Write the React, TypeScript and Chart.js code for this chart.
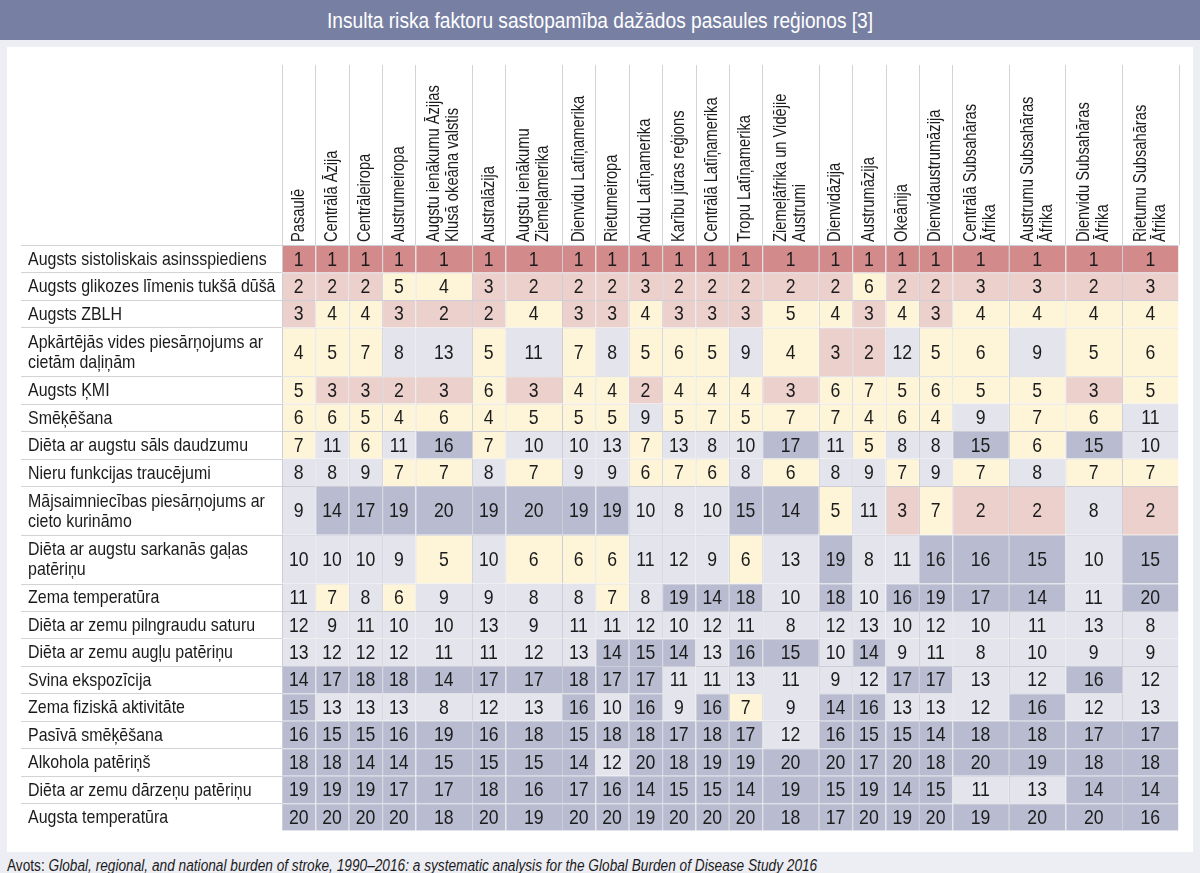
import React, { useEffect, useRef } from 'react';
import { Chart, registerables } from 'chart.js';

Chart.register(...registerables);

// ---------- texts ----------
const TITLE = 'Insulta riska faktoru sastopamība dažādos pasaules reģionos [3]';
const SOURCE_PREFIX = 'Avots: ';
const SOURCE_TEXT =
  'Global, regional, and national burden of stroke, 1990–2016: a systematic analysis for the Global Burden of Disease Study 2016';

// ---------- categories ----------
const regions: string[][] = [
  ['Pasaulē'],
  ['Centrālā Āzija'],
  ['Centrāleiropa'],
  ['Austrumeiropa'],
  ['Augstu ienākumu Āzijas', 'Klusā okeāna valstis'],
  ['Australāzija'],
  ['Augstu ienākumu', 'Ziemeļamerika'],
  ['Dienvidu Latīņamerika'],
  ['Rietumeiropa'],
  ['Andu Latīņamerika'],
  ['Karību jūras reģions'],
  ['Centrālā Latīņamerika'],
  ['Tropu Latīņamerika'],
  ['Ziemeļāfrika un Vidējie', 'Austrumi'],
  ['Dienvidāzija'],
  ['Austrumāzija'],
  ['Okeānija'],
  ['Dienvidaustrumāzija'],
  ['Centrālā Subsahāras', 'Āfrika'],
  ['Austrumu Subsahāras', 'Āfrika'],
  ['Dienvidu Subsahāras', 'Āfrika'],
  ['Rietumu Subsahāras', 'Āfrika'],
];

const riskFactors: string[][] = [
  ['Augsts sistoliskais asinsspiediens'],
  ['Augsts glikozes līmenis tukšā dūšā'],
  ['Augsts ZBLH'],
  ['Apkārtējās vides piesārņojums ar', 'cietām daļiņām'],
  ['Augsts ĶMI'],
  ['Smēķēšana'],
  ['Diēta ar augstu sāls daudzumu'],
  ['Nieru funkcijas traucējumi'],
  ['Mājsaimniecības piesārņojums ar', 'cieto kurināmo'],
  ['Diēta ar augstu sarkanās gaļas', 'patēriņu'],
  ['Zema temperatūra'],
  ['Diēta ar zemu pilngraudu saturu'],
  ['Diēta ar zemu augļu patēriņu'],
  ['Svina ekspozīcija'],
  ['Zema fiziskā aktivitāte'],
  ['Pasīvā smēķēšana'],
  ['Alkohola patēriņš'],
  ['Diēta ar zemu dārzeņu patēriņu'],
  ['Augsta temperatūra'],
];

// ---------- series values (rank per region) ----------
const rankHighSBP = [1, 1, 1, 1, 1, 1, 1, 1, 1, 1, 1, 1, 1, 1, 1, 1, 1, 1, 1, 1, 1, 1];
const rankHighGlucose = [2, 2, 2, 5, 4, 3, 2, 2, 2, 3, 2, 2, 2, 2, 2, 6, 2, 2, 3, 3, 2, 3];
const rankHighLDL = [3, 4, 4, 3, 2, 2, 4, 3, 3, 4, 3, 3, 3, 5, 4, 3, 4, 3, 4, 4, 4, 4];
const rankAmbientPM = [4, 5, 7, 8, 13, 5, 11, 7, 8, 5, 6, 5, 9, 4, 3, 2, 12, 5, 6, 9, 5, 6];
const rankHighBMI = [5, 3, 3, 2, 3, 6, 3, 4, 4, 2, 4, 4, 4, 3, 6, 7, 5, 6, 5, 5, 3, 5];
const rankSmoking = [6, 6, 5, 4, 6, 4, 5, 5, 5, 9, 5, 7, 5, 7, 7, 4, 6, 4, 9, 7, 6, 11];
const rankHighSodium = [7, 11, 6, 11, 16, 7, 10, 10, 13, 7, 13, 8, 10, 17, 11, 5, 8, 8, 15, 6, 15, 10];
const rankKidney = [8, 8, 9, 7, 7, 8, 7, 9, 9, 6, 7, 6, 8, 6, 8, 9, 7, 9, 7, 8, 7, 7];
const rankHouseholdAir = [9, 14, 17, 19, 20, 19, 20, 19, 19, 10, 8, 10, 15, 14, 5, 11, 3, 7, 2, 2, 8, 2];
const rankRedMeat = [10, 10, 10, 9, 5, 10, 6, 6, 6, 11, 12, 9, 6, 13, 19, 8, 11, 16, 16, 15, 10, 15];
const rankLowTemp = [11, 7, 8, 6, 9, 9, 8, 8, 7, 8, 19, 14, 18, 10, 18, 10, 16, 19, 17, 14, 11, 20];
const rankWholeGrains = [12, 9, 11, 10, 10, 13, 9, 11, 11, 12, 10, 12, 11, 8, 12, 13, 10, 12, 10, 11, 13, 8];
const rankFruits = [13, 12, 12, 12, 11, 11, 12, 13, 14, 15, 14, 13, 16, 15, 10, 14, 9, 11, 8, 10, 9, 9];
const rankLead = [14, 17, 18, 18, 14, 17, 17, 18, 17, 17, 11, 11, 13, 11, 9, 12, 17, 17, 13, 12, 16, 12];
const rankLowActivity = [15, 13, 13, 13, 8, 12, 13, 16, 10, 16, 9, 16, 7, 9, 14, 16, 13, 13, 12, 16, 12, 13];
const rankSecondHand = [16, 15, 15, 16, 19, 16, 18, 15, 18, 18, 17, 18, 17, 12, 16, 15, 15, 14, 18, 18, 17, 17];
const rankAlcohol = [18, 18, 14, 14, 15, 15, 15, 14, 12, 20, 18, 19, 19, 20, 20, 17, 20, 18, 20, 19, 18, 18];
const rankVegetables = [19, 19, 19, 17, 17, 18, 16, 17, 16, 14, 15, 15, 14, 19, 15, 19, 14, 15, 11, 13, 14, 14];
const rankHighTemp = [20, 20, 20, 20, 18, 20, 19, 20, 20, 19, 20, 20, 20, 18, 17, 20, 19, 20, 19, 20, 20, 16];

const ranks: number[][] = [
  rankHighSBP, rankHighGlucose, rankHighLDL, rankAmbientPM, rankHighBMI, rankSmoking,
  rankHighSodium, rankKidney, rankHouseholdAir, rankRedMeat, rankLowTemp, rankWholeGrains,
  rankFruits, rankLead, rankLowActivity, rankSecondHand, rankAlcohol, rankVegetables, rankHighTemp,
];

// ---------- layout (units) ----------
const NARROW_COL = 1;
const WIDE_COL = 1.695;
const SINGLE_ROW = 1;
const DOUBLE_ROW = 1.775;

const colW = regions.map((l) => (l.length > 1 ? WIDE_COL : NARROW_COL));
const rowH = riskFactors.map((l) => (l.length > 1 ? DOUBLE_ROW : SINGLE_ROW));
const colX0: number[] = [];
colW.reduce((acc, w) => { colX0.push(acc); return acc + w; }, 0);
const rowY0: number[] = [];
rowH.reduce((acc, h) => { rowY0.push(acc); return acc + h; }, 0);
const totalW = colW.reduce((a, b) => a + b, 0);
const totalH = rowH.reduce((a, b) => a + b, 0);
const colBounds = [...colX0, totalW];
const rowBounds = [...rowY0, totalH];

// ---------- styles ----------
const FONT = '"Liberation Sans", Arial, sans-serif';
const SQUEEZE = 0.84;
const TEXT_COLOR = '#1b1b1b';

function rankColor(r: number): string {
  if (r === 1) return '#d28a8a';
  if (r <= 3) return '#ebd0cc';
  if (r <= 7) return '#fef5d9';
  if (r <= 13) return '#e3e4ec';
  return '#b9bcd0';
}

function drawText(
  ctx: CanvasRenderingContext2D,
  text: string,
  x: number,
  y: number,
  size: number,
  align: CanvasTextAlign,
  rotate = 0,
) {
  ctx.save();
  ctx.translate(x, y);
  if (rotate) ctx.rotate(rotate);
  ctx.scale(SQUEEZE, 1);
  ctx.font = `${size}px ${FONT}`;
  ctx.fillStyle = TEXT_COLOR;
  ctx.textAlign = align;
  ctx.textBaseline = 'middle';
  ctx.fillText(text, 0, 0);
  ctx.restore();
}

const tablePlugin = {
  id: 'tableText',
  beforeDatasetsDraw(chart: any) {
    const { ctx, chartArea, scales } = chart;
    const xs = scales.x;
    const ys = scales.y;
    ctx.save();
    ctx.lineWidth = 1;
    ctx.strokeStyle = '#d3d3d6';
    // header separators
    colBounds.forEach((b) => {
      const px = Math.round(xs.getPixelForValue(b)) + 0.5;
      ctx.beginPath();
      ctx.moveTo(px, 18);
      ctx.lineTo(px, chartArea.top);
      ctx.stroke();
    });
    // row separators in the label column
    rowBounds.slice(0, -1).forEach((b) => {
      const py = Math.round(ys.getPixelForValue(b)) + 0.5;
      ctx.beginPath();
      ctx.moveTo(14, py);
      ctx.lineTo(chartArea.left, py);
      ctx.stroke();
    });
    ctx.restore();
  },
  afterDatasetsDraw(chart: any) {
    const { ctx, chartArea, scales } = chart;
    const xs = scales.x;
    const ys = scales.y;
    // cell values
    chart.data.datasets.forEach((_: any, i: number) => {
      const meta = chart.getDatasetMeta(i);
      meta.data.forEach((el: any, j: number) => {
        const c = el.getCenterPoint();
        drawText(ctx, String(ranks[i][j]), c.x, c.y + 1, 21, 'center');
      });
    });
    // row labels
    riskFactors.forEach((lines, i) => {
      const cy = ys.getPixelForValue(rowY0[i] + rowH[i] / 2);
      lines.forEach((t, k) => {
        const oy = (k - (lines.length - 1) / 2) * 20;
        drawText(ctx, t, 21, cy + oy + 1, 19, 'left');
      });
    });
    // column headers
    regions.forEach((lines, j) => {
      const cx = xs.getPixelForValue(colX0[j] + colW[j] / 2);
      lines.forEach((t, k) => {
        const ox = (k - (lines.length - 1) / 2) * 19;
        drawText(ctx, t, cx + ox, chartArea.top - 3, 17.5, 'left', -Math.PI / 2);
      });
    });
  },
};

export default function App() {
  const ref = useRef<HTMLCanvasElement>(null);

  useEffect(() => {
    if (!ref.current) return;
    const datasets = riskFactors.map((label, i) => ({
      label: label.join(' '),
      data: regions.map((_, j) => ({
        x: [colX0[j], colX0[j] + colW[j]],
        y: rowY0[i] + rowH[i] / 2,
      })),
      backgroundColor: ranks[i].map(rankColor),
      borderColor: '#cccdd6',
      borderWidth: { top: 1, left: 1, right: 0, bottom: 0 },
      borderSkipped: false,
      inflateAmount: 0,
      grouped: false,
      categoryPercentage: 1,
      barPercentage: rowH[i],
    }));

    const chart = new Chart(ref.current, {
      type: 'bar',
      data: { datasets } as any,
      options: {
        indexAxis: 'y',
        animation: false,
        responsive: false,
        events: [],
        layout: { padding: { left: 275, top: 198, right: 14.4, bottom: 21.3 } },
        plugins: {
          legend: { display: false },
          tooltip: { enabled: false },
          title: { display: false },
        },
        scales: {
          x: { type: 'linear', display: false, offset: false, min: 0, max: totalW },
          y: {
            type: 'linear',
            display: false,
            offset: false,
            reverse: true,
            min: 0,
            max: totalH,
            afterBuildTicks: (s: any) => {
              s.ticks = rowBounds.map((v) => ({ value: v }));
            },
          },
        },
      } as any,
      plugins: [tablePlugin],
    });
    return () => chart.destroy();
  }, []);

  return (
    <div
      style={{
        position: 'fixed',
        left: 0,
        top: 0,
        width: 1200,
        height: 873,
        background: '#edeef4',
        overflow: 'hidden',
        fontFamily: FONT,
      }}
    >
      <div
        style={{
          position: 'absolute',
          left: 0,
          top: 0,
          width: 1200,
          height: 40,
          background: '#777fa3',
          display: 'flex',
          alignItems: 'center',
          justifyContent: 'center',
        }}
      >
        <span
          style={{
            color: '#ffffff',
            fontSize: 22.8,
            display: 'inline-block',
            transform: `scaleX(${SQUEEZE})`,
            whiteSpace: 'nowrap',
          }}
        >
          {TITLE}
        </span>
      </div>
      <div
        style={{
          position: 'absolute',
          left: 7,
          top: 47,
          width: 1186,
          height: 805,
          background: '#ffffff',
        }}
      >
        <canvas ref={ref} width={1186} height={805} style={{ display: 'block', width: 1186, height: 805 }} />
      </div>
      <div
        style={{
          position: 'absolute',
          left: 7,
          top: 855,
          whiteSpace: 'nowrap',
          fontSize: 16.3,
          lineHeight: '20px',
          color: TEXT_COLOR,
        }}
      >
        <span style={{ display: 'inline-block', transform: `scaleX(${SQUEEZE})`, transformOrigin: 'left center' }}>
          {SOURCE_PREFIX}
          <i>{SOURCE_TEXT}</i>
        </span>
      </div>
    </div>
  );
}
